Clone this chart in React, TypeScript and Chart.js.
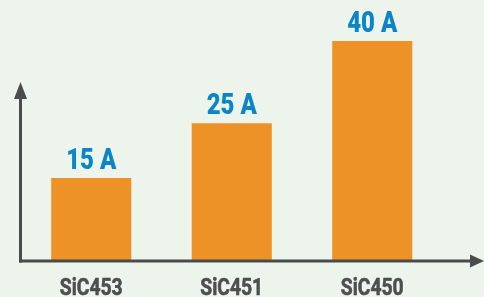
import React, { useEffect, useRef } from "react";
import { Chart, registerables } from "chart.js";

Chart.register(...registerables);

const categories = ["SiC453", "SiC451", "SiC450"];
const currents = [15, 25, 40];
const valueLabels = ["15 A", "25 A", "40 A"];
const yMax = 47.5;

const BG = "#edf4ec";
const BAR = "#ec9226";
const BLUE = "#0a86c8";
const AXIS = "#4a4b4d";
const TEXT = "#4d4e50";

function heavyText(ctx: CanvasRenderingContext2D, text: string, color: string, font: string, sx: number, stroke: number) {
  ctx.fillStyle = color;
  ctx.strokeStyle = color;
  ctx.font = font;
  ctx.textAlign = "center";
  ctx.textBaseline = "alphabetic";
  ctx.scale(sx, 1);
  if (stroke > 0) {
    ctx.lineWidth = stroke;
    ctx.lineJoin = "round";
    ctx.strokeText(text, 0, 0);
  }
  ctx.fillText(text, 0, 0);
}

const overlay = {
  id: "overlay",
  afterDatasetsDraw(chart: any) {
    const ctx = chart.ctx as CanvasRenderingContext2D;
    const area = chart.chartArea;
    const ax = area.left - 0.5;
    const ay = area.bottom + 1;
    ctx.save();
    ctx.strokeStyle = AXIS;
    ctx.fillStyle = AXIS;
    ctx.lineWidth = 3;
    // y axis
    ctx.beginPath();
    ctx.moveTo(ax, ay + 1.5);
    ctx.lineTo(ax, 95);
    ctx.stroke();
    ctx.beginPath();
    ctx.moveTo(ax, 82);
    ctx.lineTo(ax - 6.5, 99);
    ctx.lineTo(ax + 6.5, 99);
    ctx.closePath();
    ctx.fill();
    // x axis
    ctx.beginPath();
    ctx.moveTo(ax - 1.5, ay);
    ctx.lineTo(474, ay);
    ctx.stroke();
    ctx.beginPath();
    ctx.moveTo(484, ay);
    ctx.lineTo(470, ay - 6.5);
    ctx.lineTo(470, ay + 6.5);
    ctx.closePath();
    ctx.fill();

    const meta = chart.getDatasetMeta(0);
    meta.data.forEach((bar: any, i: number) => {
      ctx.save();
      ctx.translate(bar.x, bar.y - 9);
      heavyText(ctx, valueLabels[i], BLUE, "900 30px Roboto", 0.8, 0);
      ctx.restore();
      ctx.save();
      ctx.translate(chart.scales.x.getPixelForValue(i), 295);
      heavyText(ctx, categories[i], TEXT, "bold 23px Roboto", 0.84, 0.6);
      ctx.restore();
    });
    ctx.restore();
  },
};

export default function App() {
  const ref = useRef<HTMLCanvasElement>(null);
  useEffect(() => {
    document.body.style.margin = "0";
    document.body.style.background = BG;
    const chart = new Chart(ref.current!, {
      type: "bar",
      data: {
        labels: categories,
        datasets: [
          {
            data: currents,
            backgroundColor: BAR,
            borderWidth: 0,
            barPercentage: 0.57,
            categoryPercentage: 1,
          },
        ],
      },
      options: {
        animation: false,
        responsive: true,
        maintainAspectRatio: false,
        layout: { padding: { left: 21, right: 41.5, top: 0, bottom: 37 } },
        plugins: { legend: { display: false }, tooltip: { enabled: false } },
        scales: {
          x: { display: false, offset: true },
          y: { display: false, min: 0, max: yMax },
        },
      },
      plugins: [overlay],
    });
    return () => chart.destroy();
  }, []);
  return (
    <div style={{ width: 484, height: 297, position: "relative", background: BG }}>
      <canvas ref={ref} />
    </div>
  );
}
